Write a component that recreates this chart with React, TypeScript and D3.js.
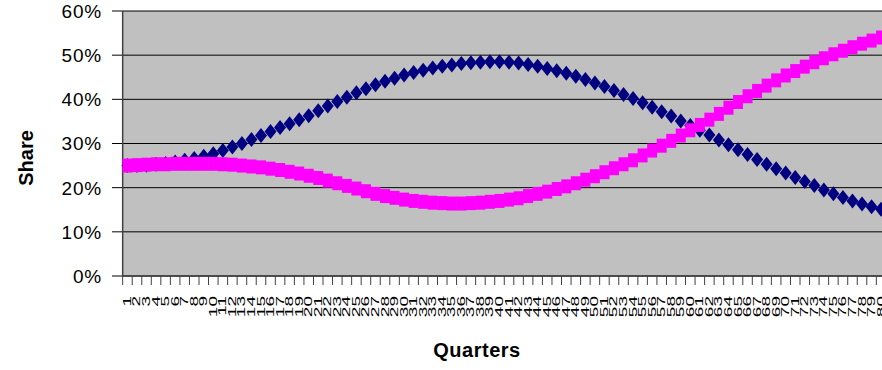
import React from "react";
import * as d3 from "d3";

const quarters: number[] = Array.from({ length: 80 }, (_, i) => i + 1);

const seriesNavy: number[] = [
  25.0, 25.0, 25.1, 25.3, 25.5, 25.8, 26.2, 26.6, 27.1, 27.7,
  28.4, 29.2, 30.0, 30.9, 31.8, 32.7, 33.6, 34.5, 35.4, 36.3,
  37.4, 38.5, 39.5, 40.5, 41.5, 42.4, 43.3, 44.1, 44.8, 45.5,
  46.1, 46.6, 47.1, 47.5, 47.8, 48.1, 48.3, 48.4, 48.5, 48.5,
  48.4, 48.2, 47.9, 47.5, 47.0, 46.5, 45.9, 45.2, 44.5, 43.7,
  42.9, 42.0, 41.1, 40.2, 39.2, 38.2, 37.2, 36.2, 35.1, 34.1,
  33.0, 31.9, 30.8, 29.7, 28.6, 27.5, 26.4, 25.3, 24.3, 23.3,
  22.3, 21.4, 20.5, 19.5, 18.6, 17.8, 17.0, 16.3, 15.7, 15.1,
];

const seriesMagenta: number[] = [
  25.0, 25.1, 25.2, 25.3, 25.3, 25.4, 25.4, 25.4, 25.4, 25.4,
  25.3, 25.2, 25.0, 24.8, 24.6, 24.3, 24.0, 23.6, 23.2, 22.7,
  22.2, 21.6, 21.0, 20.4, 19.8, 19.2, 18.6, 18.1, 17.7, 17.3,
  17.0, 16.8, 16.6, 16.5, 16.4, 16.4, 16.5, 16.6, 16.8, 17.0,
  17.3, 17.6, 18.1, 18.6, 19.1, 19.7, 20.3, 21.0, 21.8, 22.6,
  23.5, 24.4, 25.3, 26.2, 27.3, 28.4, 29.5, 30.6, 31.8, 33.0,
  34.2, 35.4, 36.7, 38.1, 39.4, 40.7, 41.9, 43.1, 44.3, 45.4,
  46.4, 47.4, 48.4, 49.3, 50.2, 51.0, 51.8, 52.6, 53.3, 54.0,
];

const yTicks: number[] = [0, 10, 20, 30, 40, 50, 60];

const W = 882;
const H = 370;
const LEFT = 122.67;
const BAND = 9.54;
const TOP = 11;
const BOTTOM = 276;

export default function App() {
  const x = d3
    .scaleBand<number>()
    .domain(quarters)
    .range([LEFT, LEFT + BAND * quarters.length])
    .paddingInner(0)
    .paddingOuter(0);
  const y = d3.scaleLinear().domain([0, 60]).range([BOTTOM, TOP]);
  const bw = x.bandwidth();
  const cx = (q: number) => (x(q) as number) + bw / 2;

  const mW = 10;
  const mH = 14;
  const dW = 12;
  const dH = 15;
  const diamond = (px: number, py: number) =>
    `M${px},${py - dH / 2}L${px + dW / 2},${py}L${px},${py + dH / 2}L${px - dW / 2},${py}Z`;

  const plotRight = LEFT + BAND * quarters.length;
  const font = "'Liberation Sans', Arial, sans-serif";

  return (
    <svg
      width={W}
      height={H}
      style={{ position: "absolute", left: 0, top: 0, background: "#fff" }}
      fontFamily={font}
    >
      <rect x={LEFT} y={TOP} width={plotRight - LEFT} height={BOTTOM - TOP} fill="#C0C0C0" />
      {yTicks.map((t) => (
        <g key={t}>
          <line x1={112} x2={plotRight} y1={y(t)} y2={y(t)} stroke="#000" strokeWidth={1} />
          <text
            x={102}
            y={y(t)}
            dy="0.36em"
            textAnchor="end"
            fontSize={19}
            letterSpacing={0.8}
            fill="#000"
          >
            {t + "%"}
          </text>
        </g>
      ))}
      <line x1={LEFT} x2={LEFT} y1={TOP} y2={BOTTOM} stroke="#404040" strokeWidth={1.5} />
      <line x1={LEFT} x2={plotRight} y1={BOTTOM} y2={BOTTOM} stroke="#404040" strokeWidth={1.5} />
      {quarters.map((q, i) => (
        <line
          key={"t" + q}
          x1={LEFT + BAND * i}
          x2={LEFT + BAND * i}
          y1={BOTTOM}
          y2={BOTTOM + 9}
          stroke="#404040"
          strokeWidth={1}
        />
      ))}
      {quarters.map((q) => (
        <text
          key={"l" + q}
          transform={`translate(${cx(q) + 3.5},296) rotate(-90) scale(1.9,1)`}
          textAnchor="end"
          fontSize={10}
          fill="#000"
        >
          {String(q)}
        </text>
      ))}
      {seriesNavy.map((v, i) => (
        <path key={"n" + i} d={diamond(cx(quarters[i]), y(v))} fill="#000080" />
      ))}
      {seriesMagenta.map((v, i) => (
        <rect
          key={"m" + i}
          x={cx(quarters[i]) - mW / 2}
          y={y(v) - mH / 2}
          width={mW}
          height={mH}
          fill="#FF00FF"
        />
      ))}
      <text
        transform="translate(33,158) rotate(-90)"
        textAnchor="middle"
        fontSize={20}
        fontWeight="bold"
        fill="#000"
      >
        Share
      </text>
      <text x={477} y={357} textAnchor="middle" fontSize={20} fontWeight="bold" letterSpacing={0.5} fill="#000">
        Quarters
      </text>
    </svg>
  );
}
